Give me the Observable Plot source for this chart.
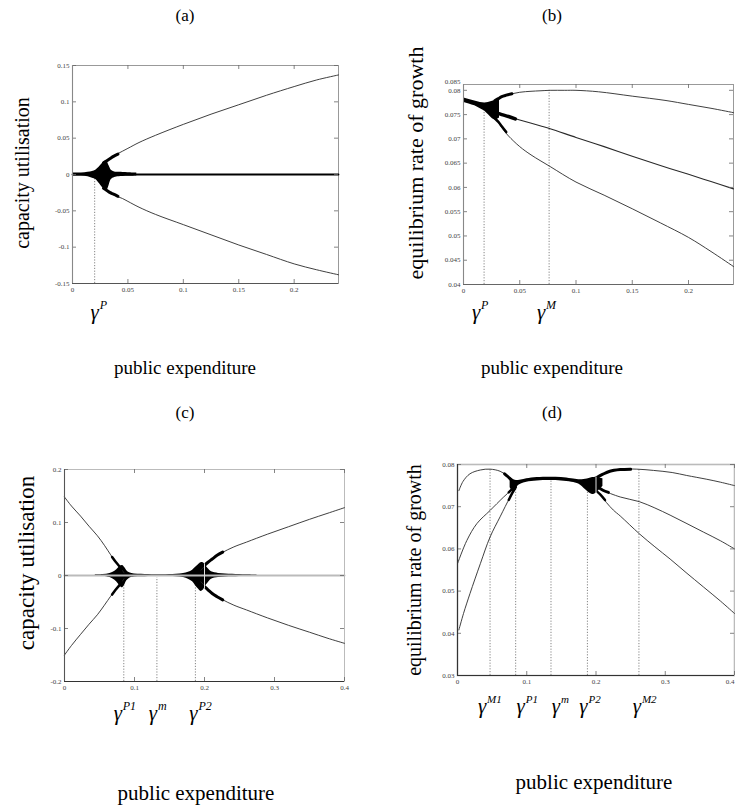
<!DOCTYPE html>
<html><head><meta charset="utf-8">
<script src="https://cdn.jsdelivr.net/npm/d3@7"></script>
<script src="https://cdn.jsdelivr.net/npm/@observablehq/plot@0.6"></script>
<style>
html,body{margin:0;padding:0;background:#fff;overflow:hidden;}
#fig{position:relative;width:735px;height:806px;overflow:hidden;font-family:"Liberation Serif","Times New Roman",serif;color:#000;}
.t{position:absolute;white-space:nowrap;transform:translate(-50%,-50%);line-height:1;}
.r{transform:translate(-50%,-50%) rotate(-90deg);}
.p{position:absolute;}
svg text{font-family:"Liberation Serif","Times New Roman",serif;}
</style></head><body><div id="fig"></div><script>
// ---------- Panel (a): capacity utilisation vs public expenditure ----------
const aXTicks = [0, 0.05, 0.1, 0.15, 0.2];
const aYTicks = [-0.15, -0.1, -0.05, 0, 0.05, 0.1, 0.15];
const aMidX = [0, 0.24];
const aMidY = [0, 0];
const aCoreX   = [0, 0.008, 0.014, 0.018, 0.021, 0.024, 0.027, 0.029, 0.031, 0.033, 0.035, 0.038, 0.042, 0.05, 0.058];
const aCoreTop = [0.002, 0.002, 0.003, 0.004, 0.006, 0.010, 0.015, 0.018, 0.018, 0.012, 0.006, 0.0035, 0.003, 0.0025, 0.002];
const aCoreBot = [-0.002, -0.002, -0.003, -0.005, -0.007, -0.012, -0.018, -0.021, -0.022, -0.015, -0.007, -0.004, -0.003, -0.0025, -0.002];
const aHornX  = [0.028, 0.031, 0.034, 0.037, 0.041];
const aHornUp = [0.016, 0.019, 0.022, 0.025, 0.028];
const aHornLo = [-0.019, -0.022, -0.025, -0.027, -0.030];
const aBranchX = [0.035, 0.04, 0.045, 0.05, 0.06, 0.075, 0.1, 0.125, 0.15, 0.175, 0.2, 0.22, 0.24];
const aUpper   = [0.024, 0.028, 0.032, 0.036, 0.044, 0.054, 0.069, 0.083, 0.096, 0.109, 0.121, 0.130, 0.137];
const aLower   = [-0.026, -0.030, -0.033, -0.037, -0.045, -0.055, -0.069, -0.083, -0.097, -0.110, -0.123, -0.131, -0.138];
const aGamma = [0.02];
const aGammaTop = [0];
const aGammaSup = ["P"];

// ---------- Panel (b): equilibrium rate of growth ----------
const bXTicks = [0, 0.05, 0.1, 0.15, 0.2];
const bYTicks = [0.04, 0.045, 0.05, 0.055, 0.06, 0.065, 0.07, 0.075, 0.08];
const bTopLabel = ["0.085"];
const bTrunkX   = [0, 0.005, 0.01, 0.015, 0.019, 0.022, 0.025, 0.028, 0.030, 0.032];
const bTrunkTop = [0.0784, 0.0781, 0.0778, 0.0775, 0.0774, 0.0775, 0.0777, 0.0779, 0.0780, 0.0779];
const bTrunkBot = [0.0775, 0.0772, 0.0768, 0.0762, 0.0757, 0.0750, 0.0743, 0.0739, 0.0740, 0.0743];
const bHornUpX = [0.028, 0.031, 0.034, 0.038, 0.043];
const bHornUpY = [0.0779, 0.0783, 0.0787, 0.0790, 0.0793];
const bHornMidX = [0.03, 0.034, 0.04, 0.046];
const bHornMidY = [0.0753, 0.0750, 0.0746, 0.0741];
const bHornLoX = [0.028, 0.031, 0.034, 0.038];
const bHornLoY = [0.0742, 0.0735, 0.0726, 0.0714];
const bUpX = [0.034, 0.04, 0.05, 0.06, 0.068, 0.077, 0.09, 0.1, 0.12, 0.15, 0.18, 0.2, 0.22, 0.24];
const bUpY = [0.0787, 0.0791, 0.0796, 0.0798, 0.0799, 0.0800, 0.0800, 0.0800, 0.0797, 0.0788, 0.0779, 0.0771, 0.0763, 0.0754];
const bMidX = [0.031, 0.04, 0.05, 0.068, 0.077, 0.1, 0.125, 0.15, 0.175, 0.2, 0.22, 0.24];
const bMidY = [0.0752, 0.0746, 0.0739, 0.0727, 0.0721, 0.0703, 0.0684, 0.0664, 0.0645, 0.0627, 0.0612, 0.0597];
const bLoX = [0.03, 0.035, 0.04, 0.05, 0.06, 0.077, 0.1, 0.125, 0.15, 0.175, 0.2, 0.22, 0.24];
const bLoY = [0.0738, 0.0720, 0.0706, 0.0684, 0.0667, 0.0643, 0.0611, 0.0584, 0.0556, 0.0527, 0.0497, 0.0468, 0.0437];
const bGamma = [0.0183, 0.0761];
const bGammaTop = [0.0768, 0.0800];
const bGammaSup = ["P", "M"];

// ---------- Panel (c): capacity utilisation ----------
const cXTicks = [0, 0.1, 0.2, 0.3, 0.4];
const cYTicks = [-0.2, -0.1, 0, 0.1, 0.2];
const cGreyX = [0, 0.4];
const cGreyY = [0, 0];
const cCoreX = [0.044, 0.055, 0.065, 0.072, 0.077, 0.080, 0.083, 0.086, 0.089, 0.093, 0.1, 0.11, 0.12, 0.13, 0.14, 0.15, 0.16, 0.17, 0.177, 0.183, 0.187, 0.191, 0.195, 0.198, 0.201, 0.205, 0.21, 0.22, 0.23, 0.24, 0.25, 0.26, 0.275];
const cCoreTop = [0.0015, 0.002, 0.004, 0.008, 0.014, 0.018, 0.019, 0.015, 0.009, 0.005, 0.003, 0.0025, 0.002, 0.0015, 0.0015, 0.002, 0.0025, 0.004, 0.006, 0.010, 0.015, 0.020, 0.024, 0.024, 0.020, 0.013, 0.007, 0.004, 0.003, 0.0025, 0.002, 0.0015, 0.001];
const cCoreBot = [-0.0015, -0.002, -0.004, -0.009, -0.016, -0.021, -0.023, -0.018, -0.010, -0.005, -0.003, -0.0025, -0.002, -0.0015, -0.0015, -0.002, -0.0025, -0.004, -0.007, -0.012, -0.019, -0.025, -0.030, -0.028, -0.021, -0.014, -0.007, -0.004, -0.003, -0.0025, -0.002, -0.0015, -0.001];
const cLX  = [0, 0.01, 0.023, 0.035, 0.047, 0.057, 0.066, 0.072, 0.078, 0.082, 0.085];
const cLUp = [0.148, 0.131, 0.112, 0.093, 0.075, 0.057, 0.039, 0.028, 0.018, 0.011, 0.005];
const cLLo = [-0.150, -0.132, -0.111, -0.092, -0.074, -0.056, -0.039, -0.029, -0.019, -0.012, -0.006];
const cLHornX  = [0.068, 0.073, 0.078, 0.082];
const cLHornUp = [0.035, 0.026, 0.018, 0.012];
const cLHornLo = [-0.036, -0.027, -0.019, -0.013];
const cRX  = [0.195, 0.2, 0.205, 0.213, 0.225, 0.242, 0.26, 0.29, 0.32, 0.35, 0.375, 0.4];
const cRUp = [0.010, 0.017, 0.024, 0.033, 0.043, 0.054, 0.063, 0.078, 0.092, 0.106, 0.117, 0.128];
const cRLo = [-0.012, -0.019, -0.026, -0.035, -0.045, -0.056, -0.065, -0.080, -0.094, -0.107, -0.118, -0.128];
const cRHornX  = [0.2, 0.205, 0.211, 0.218, 0.226];
const cRHornUp = [0.019, 0.025, 0.031, 0.038, 0.044];
const cRHornLo = [-0.021, -0.027, -0.034, -0.040, -0.046];
const cGamma = [0.0847, 0.132, 0.187];
const cGammaTop = [-0.004, -0.004, -0.004];
const cGammaSup = ["P1", "m", "P2"];

// ---------- Panel (d): equilibrium rate of growth ----------
const dXTicks = [0, 0.1, 0.2, 0.3, 0.4];
const dYTicks = [0.03, 0.04, 0.05, 0.06, 0.07, 0.08];
const dULX = [0.002, 0.008, 0.018, 0.033, 0.047, 0.0615, 0.071, 0.078, 0.083];
const dULY = [0.0738, 0.0760, 0.0778, 0.0787, 0.0789, 0.0784, 0.0774, 0.0763, 0.0755];
const dMLX = [0, 0.0135, 0.028, 0.047, 0.066, 0.078, 0.084];
const dMLY = [0.0565, 0.0620, 0.0660, 0.0691, 0.0722, 0.0740, 0.0750];
const dLLX = [0.002, 0.0087, 0.018, 0.033, 0.047, 0.0615, 0.076, 0.084];
const dLLY = [0.0408, 0.0447, 0.0494, 0.0565, 0.0628, 0.0676, 0.0723, 0.0746];
const dULHornX = [0.068, 0.073, 0.078, 0.083];
const dULHornY = [0.0778, 0.0771, 0.0763, 0.0756];
const dMLHornX = [0.074, 0.079, 0.084];
const dMLHornY = [0.0734, 0.0742, 0.0750];
const dLLHornX = [0.074, 0.079, 0.084];
const dLLHornY = [0.0716, 0.0732, 0.0746];
const dCoreX   = [0.076, 0.079, 0.082, 0.085, 0.088, 0.092, 0.1, 0.115, 0.134, 0.15, 0.165, 0.175, 0.18, 0.185, 0.19, 0.195, 0.2, 0.205, 0.21];
const dCoreTop = [0.0768, 0.0766, 0.0763, 0.0762, 0.0762, 0.0763, 0.0766, 0.0769, 0.0770, 0.0769, 0.0766, 0.0764, 0.0764, 0.0765, 0.0767, 0.0769, 0.0770, 0.0768, 0.0766];
const dCoreBot = [0.0745, 0.0738, 0.0735, 0.0742, 0.0750, 0.0754, 0.0758, 0.0761, 0.0762, 0.0761, 0.0758, 0.0754, 0.0748, 0.0740, 0.0733, 0.0729, 0.0732, 0.0740, 0.0748];
const dURX = [0.203, 0.212, 0.22, 0.239, 0.259, 0.283, 0.31, 0.331, 0.36, 0.38, 0.4];
const dURY = [0.0768, 0.0778, 0.0784, 0.0789, 0.0789, 0.0786, 0.0781, 0.0774, 0.0765, 0.0758, 0.0750];
const dMRX = [0.205, 0.21, 0.235, 0.2625, 0.285, 0.307, 0.33, 0.355, 0.38, 0.4];
const dMRY = [0.0745, 0.0739, 0.0723, 0.0712, 0.0697, 0.0680, 0.0661, 0.0640, 0.0619, 0.0600];
const dLRX = [0.2, 0.206, 0.215, 0.225, 0.235, 0.2625, 0.285, 0.307, 0.33, 0.355, 0.38, 0.4];
const dLRY = [0.0738, 0.0729, 0.0710, 0.0692, 0.0678, 0.0636, 0.0605, 0.0576, 0.0544, 0.0510, 0.0476, 0.0447];
const dURHornX = [0.2, 0.21, 0.22, 0.235, 0.25];
const dURHornY = [0.0768, 0.0777, 0.0784, 0.0788, 0.0789];
const dMRHornX = [0.203, 0.21, 0.218];
const dMRHornY = [0.0746, 0.0739, 0.0734];
const dLRHornX = [0.2, 0.206, 0.213];
const dLRHornY = [0.0738, 0.0729, 0.0716];
const dGamma = [0.047, 0.084, 0.135, 0.1876, 0.262];
const dGammaTop = [0.0789, 0.0750, 0.0766, 0.0745, 0.0789];
const dGammaSup = ["M1", "P1", "m", "P2", "M2"];

// ---------- text ----------
const titles = ["(a)", "(b)", "(c)", "(d)"];
const xTitle = "public expenditure";
const yTitleU = "capacity utilisation";
const yTitleG = "equilibrium rate of growth";

const SERIF = "Liberation Serif, Times New Roman, serif";
const ML = 40, MR = 15, MT = 15, MB = 50;
const fig = document.getElementById("fig");
const fmt = d => String(d);

function panel(cfg) {
  const [l, r, t, b] = cfg.frame;
  const W = r - l, H = b - t;
  const marks = [];
  marks.push(Plot.frame({stroke: cfg.frameColor || "#aaa", strokeWidth: cfg.frameWidth || 1}));
  // dotted bifurcation markers
  marks.push(Plot.ruleX(cfg.gamma.x, {x: d => d, y1: cfg.yDomain[0], y2: cfg.gamma.top, stroke: "#666", strokeWidth: 0.8, strokeDasharray: "1.2,1.6"}));
  for (const bd of cfg.bands) {
    marks.push(Plot.areaY(bd.x, {x: bd.x, y1: bd.y1, y2: bd.y2, fill: "#000", curve: "catmull-rom"}));
  }
  for (const ln of cfg.lines) {
    marks.push(Plot.line(ln.x, {x: ln.x, y: ln.y, stroke: ln.c || "#2a2a2a", strokeWidth: ln.w || 0.9, curve: "catmull-rom"}));
  }
  if (cfg.whiteRule) {
    marks.push(Plot.ruleX([cfg.whiteRule.x], {y1: cfg.whiteRule.y1, y2: cfg.whiteRule.y2, stroke: "#ddd", strokeWidth: 1}));
  }
  // inward ticks on all four sides
  const tc = "#666";
  marks.push(Plot.ruleX(cfg.xTicks, {x: d => d, insetTop: H - 4, stroke: tc, strokeWidth: 0.8}));
  marks.push(Plot.ruleX(cfg.xTicks, {x: d => d, insetBottom: H - 4, stroke: tc, strokeWidth: 0.8}));
  marks.push(Plot.ruleY(cfg.yTicks, {y: d => d, insetRight: W - 4, stroke: tc, strokeWidth: 0.8}));
  marks.push(Plot.ruleY(cfg.yTicks, {y: d => d, insetLeft: W - 4, stroke: tc, strokeWidth: 0.8}));
  // darker bottom / left edges
  marks.push(Plot.ruleY([cfg.yDomain[0]], {stroke: cfg.bottomColor || "#444", strokeWidth: 1.2}));
  marks.push(Plot.ruleX([cfg.xDomain[0]], {stroke: cfg.leftColor || "#666", strokeWidth: 1.1}));
  // tick labels
  const xLab = cfg.lastLabelEnd ? cfg.xTicks.slice(0, -1) : cfg.xTicks;
  marks.push(Plot.axisX({ticks: xLab, tickSize: 0, tickPadding: 4, tickFormat: fmt, fontSize: 7, fontFamily: SERIF, fill: "#444", label: null}));
  if (cfg.lastLabelEnd) {
    marks.push(Plot.text(cfg.xTicks.slice(-1), {x: d => d, text: fmt, frameAnchor: "bottom", dy: 4, lineAnchor: "top", textAnchor: "end", fontSize: 7, fontFamily: SERIF, fill: "#444"}));
  }
  marks.push(Plot.axisY({ticks: cfg.yTicks, tickSize: 0, tickPadding: 3, tickFormat: fmt, fontSize: 7, fontFamily: SERIF, fill: "#444", label: null}));
  if (cfg.topLabel) {
    marks.push(Plot.text(cfg.topLabel, {frameAnchor: "top-left", dx: -3, dy: -5, textAnchor: "end", fontSize: 7, fontFamily: SERIF, fill: "#444"}));
  }
  // gamma labels (one text pair per marker, with a per-label nudge)
  cfg.gamma.x.forEach((gx, i) => {
    const ndx = cfg.gdx[i];
    marks.push(Plot.text([gx], {x: d => d, text: () => "γ", frameAnchor: "bottom", dx: ndx, dy: cfg.gdy, lineAnchor: "bottom", textAnchor: "middle", fontSize: 21, fontStyle: "italic", fontFamily: SERIF, fill: "#000"}));
    marks.push(Plot.text([gx], {x: d => d, text: () => cfg.gamma.sup[i], frameAnchor: "bottom", dx: ndx + 5, dy: cfg.gdy - 10, lineAnchor: "bottom", textAnchor: "start", fontSize: cfg.supSize || 12, fontStyle: "italic", fontFamily: SERIF, fill: "#000"}));
  });

  const svg = Plot.plot({
    width: W + ML + MR, height: H + MT + MB,
    marginLeft: ML, marginRight: MR, marginTop: MT, marginBottom: MB,
    x: {domain: cfg.xDomain, axis: null},
    y: {domain: cfg.yDomain, axis: null},
    style: {background: "transparent", overflow: "visible", maxWidth: "none", fontFamily: SERIF},
    marks
  });
  const div = document.createElement("div");
  div.className = "p";
  div.style.left = (l - ML) + "px";
  div.style.top = (t - MT) + "px";
  div.style.width = (W + ML + MR) + "px";
  div.appendChild(svg);
  fig.appendChild(div);
}

function label(text, x, y, size, rot) {
  const d = document.createElement("div");
  d.className = "t" + (rot ? " r" : "");
  d.style.left = x + "px";
  d.style.top = y + "px";
  d.style.fontSize = size + "px";
  d.textContent = text;
  fig.appendChild(d);
}

panel({
  frame: [72, 338, 65, 283], xDomain: [0, 0.24], yDomain: [-0.15, 0.15],
  xTicks: aXTicks, yTicks: aYTicks, frameColor: "#999", bottomColor: "#555", leftColor: "#888",
  bands: [{x: aCoreX, y1: aCoreBot, y2: aCoreTop}],
  lines: [
    {x: aMidX, y: aMidY, w: 1.8, c: "#000"},
    {x: aBranchX, y: aUpper}, {x: aBranchX, y: aLower},
    {x: aHornX, y: aHornUp, w: 3, c: "#000"}, {x: aHornX, y: aHornLo, w: 3, c: "#000"}
  ],
  gamma: {x: aGamma, top: aGammaTop, sup: aGammaSup}, gdx: [0], gdy: 35
});

panel({
  frame: [463, 733, 84, 284], xDomain: [0, 0.24], yDomain: [0.04, 0.0812],
  xTicks: bXTicks, yTicks: bYTicks, topLabel: bTopLabel, frameColor: "#999", bottomColor: "#666", leftColor: "#888",
  bands: [{x: bTrunkX, y1: bTrunkBot, y2: bTrunkTop}],
  lines: [
    {x: bUpX, y: bUpY}, {x: bMidX, y: bMidY, w: 1.1}, {x: bLoX, y: bLoY},
    {x: bHornUpX, y: bHornUpY, w: 3, c: "#000"}, {x: bHornMidX, y: bHornMidY, w: 3.5, c: "#000"}, {x: bHornLoX, y: bHornLoY, w: 2.5, c: "#000"}
  ],
  gamma: {x: bGamma, top: bGammaTop, sup: bGammaSup}, gdx: [-8, -8], gdy: 34
});

panel({
  frame: [64, 344, 469, 681], xDomain: [0, 0.4], yDomain: [-0.2, 0.2],
  xTicks: cXTicks, yTicks: cYTicks, frameColor: "#bbb", bottomColor: "#333", leftColor: "#555",
  bands: [{x: cCoreX, y1: cCoreBot, y2: cCoreTop}],
  lines: [
    {x: cGreyX, y: cGreyY, w: 2, c: "#bbb"},
    {x: cLX, y: cLUp}, {x: cLX, y: cLLo}, {x: cRX, y: cRUp}, {x: cRX, y: cRLo},
    {x: cLHornX, y: cLHornUp, w: 2.5, c: "#000"}, {x: cLHornX, y: cLHornLo, w: 2.5, c: "#000"},
    {x: cRHornX, y: cRHornUp, w: 3, c: "#000"}, {x: cRHornX, y: cRHornLo, w: 3, c: "#000"}
  ],
  whiteRule: {x: 0.2, y1: -0.026, y2: 0.022},
  gamma: {x: cGamma, top: cGammaTop, sup: cGammaSup}, gdx: [-6, -4, -2], gdy: 38
});

panel({
  frame: [457, 734, 464, 675], xDomain: [0, 0.4], yDomain: [0.03, 0.08],
  xTicks: dXTicks, yTicks: dYTicks, frameColor: "#bbb", frameWidth: 1.6, bottomColor: "#333", leftColor: "#333",
  lastLabelEnd: true,
  bands: [{x: dCoreX, y1: dCoreBot, y2: dCoreTop}],
  lines: [
    {x: dULX, y: dULY}, {x: dMLX, y: dMLY}, {x: dLLX, y: dLLY},
    {x: dURX, y: dURY}, {x: dMRX, y: dMRY}, {x: dLRX, y: dLRY},
    {x: dULHornX, y: dULHornY, w: 3, c: "#000"}, {x: dMLHornX, y: dMLHornY, w: 2.5, c: "#000"}, {x: dLLHornX, y: dLLHornY, w: 2.5, c: "#000"},
    {x: dURHornX, y: dURHornY, w: 3, c: "#000"}, {x: dMRHornX, y: dMRHornY, w: 3, c: "#000"}, {x: dLRHornX, y: dLRHornY, w: 2.5, c: "#000"}
  ],
  whiteRule: {x: 0.2, y1: 0.0731, y2: 0.0770},
  gamma: {x: dGamma, top: dGammaTop, sup: dGammaSup}, gdx: [-8, 5, 5, -4, -2], gdy: 37, supSize: 11
});

label(titles[0], 185, 15, 17);
label(titles[1], 552, 15, 17);
label(titles[2], 185, 412, 17);
label(titles[3], 552, 412, 17);
label(xTitle, 185, 367, 19);
label(xTitle, 552, 367, 19);
label(xTitle, 196, 793, 21);
label(xTitle, 594, 782, 21);
label(yTitleU, 22, 173, 20, true);
label(yTitleG, 416, 163, 22, true);
label(yTitleU, 26, 563, 23, true);
label(yTitleG, 414, 570, 20, true);
</script></body></html>
